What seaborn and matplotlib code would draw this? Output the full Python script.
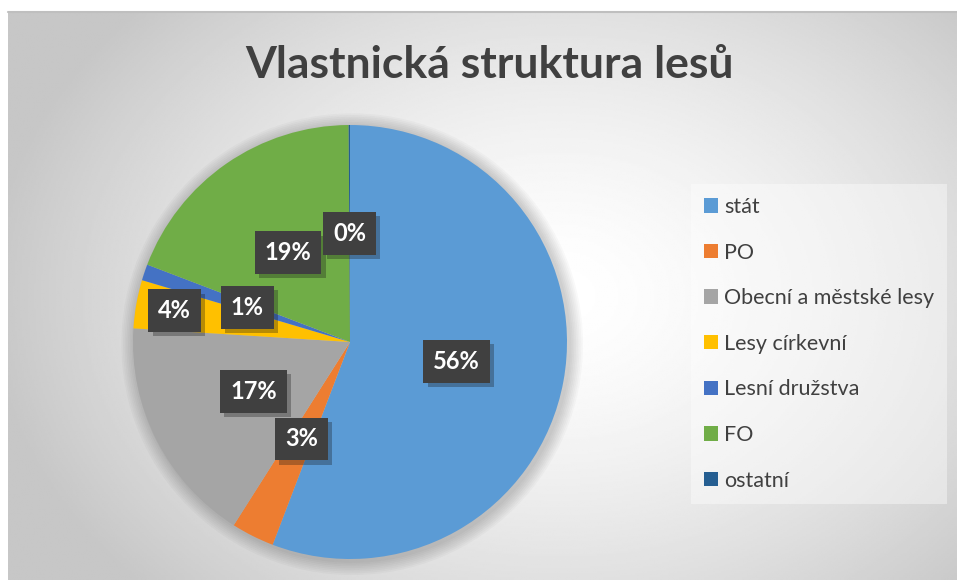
import numpy as np
import matplotlib
matplotlib.use("Agg")
import matplotlib.pyplot as plt
import matplotlib.patheffects as pe
from matplotlib.patches import Circle
import seaborn as sns

# data (percent)
categories = ['stát', 'PO', 'Obecní a městské lesy', 'Lesy církevní',
              'Lesní družstva', 'FO', 'ostatní']
shares = [55.8, 3.2, 17.0, 3.6, 1.2, 19.1, 0.1]
colors = ['#5B9BD5', '#ED7D31', '#A5A5A5', '#FFC000', '#4472C4', '#70AD47', '#255E91']

sns.set_theme(style='white')
plt.rcParams['font.family'] = ['Lato', 'DejaVu Sans']

W, H = 957, 581
fig = plt.figure(figsize=(W / 100, H / 100), dpi=100, facecolor='white')

# chart area background with soft radial gradient
x0, y0, x1, y1 = 8, 12, 957, 580
bg = fig.add_axes([x0 / W, 1 - y1 / H, (x1 - x0) / W, (y1 - y0) / H])
yy, xx = np.mgrid[0:1:300j, 0:1:500j]
d = np.sqrt(((xx - 0.58) / 0.6) ** 2 + ((yy - 0.5) / 0.75) ** 2)
g = 1 - 0.22 * np.clip(d, 0, 1) ** 1.5
bg.imshow(g, cmap='gray', vmin=0, vmax=1, aspect='auto', extent=[0, 1, 0, 1])
bg.set_axis_off()
bg.plot([0, 1], [1, 1], color='#bfbfbf', lw=1.5, transform=bg.transAxes, clip_on=False)

fig.text(490 / W, 1 - 65 / H, 'Vlastnická struktura lesů', ha='center', va='center',
         fontsize=32, fontweight='bold', color='#404040')

# pie
cx, cy, R = 350, 342, 217
ax = fig.add_axes([(cx - R * 1.1) / W, 1 - (cy + R * 1.1) / H, 2.2 * R / W, 2.2 * R / H])
ax.set_axis_off()

for k in range(1, 9):
    ax.add_patch(Circle((0.01, -0.01), 1 + k * 0.008, color='black', alpha=0.025, lw=0))

wedges, _ = ax.pie(shares, colors=colors, startangle=90, counterclock=False,
                   radius=1, wedgeprops=dict(linewidth=0))
ax.set_xlim(-1.1, 1.1)
ax.set_ylim(-1.1, 1.1)

label_r = {3: 0.82}
for i, w in enumerate(wedges):
    ang = np.deg2rad((w.theta1 + w.theta2) / 2)
    r = label_r.get(i, 0.5)
    t = ax.text(r * np.cos(ang), r * np.sin(ang), f'{round(shares[i])}%',
                ha='center', va='center', fontsize=17, fontweight='bold', color='white',
                bbox=dict(boxstyle='square,pad=0.42', fc='#404040', ec='none'))
    t.get_bbox_patch().set_path_effects(
        [pe.SimplePatchShadow(offset=(3, -3), alpha=0.3), pe.Normal()])

leg = ax.legend(wedges, categories, loc='upper left',
                bbox_to_anchor=(691 / W, 1 - 184 / H), bbox_transform=fig.transFigure,
                fontsize=15.5, frameon=True, fancybox=False, facecolor='white',
                framealpha=0.4, edgecolor='none', handlelength=0.65, handleheight=0.65,
                handletextpad=0.3, labelspacing=1.19, borderpad=0.6, borderaxespad=0)
for t in leg.get_texts():
    t.set_color('#404040')

fig.savefig('out.png', dpi=100, facecolor='white')
